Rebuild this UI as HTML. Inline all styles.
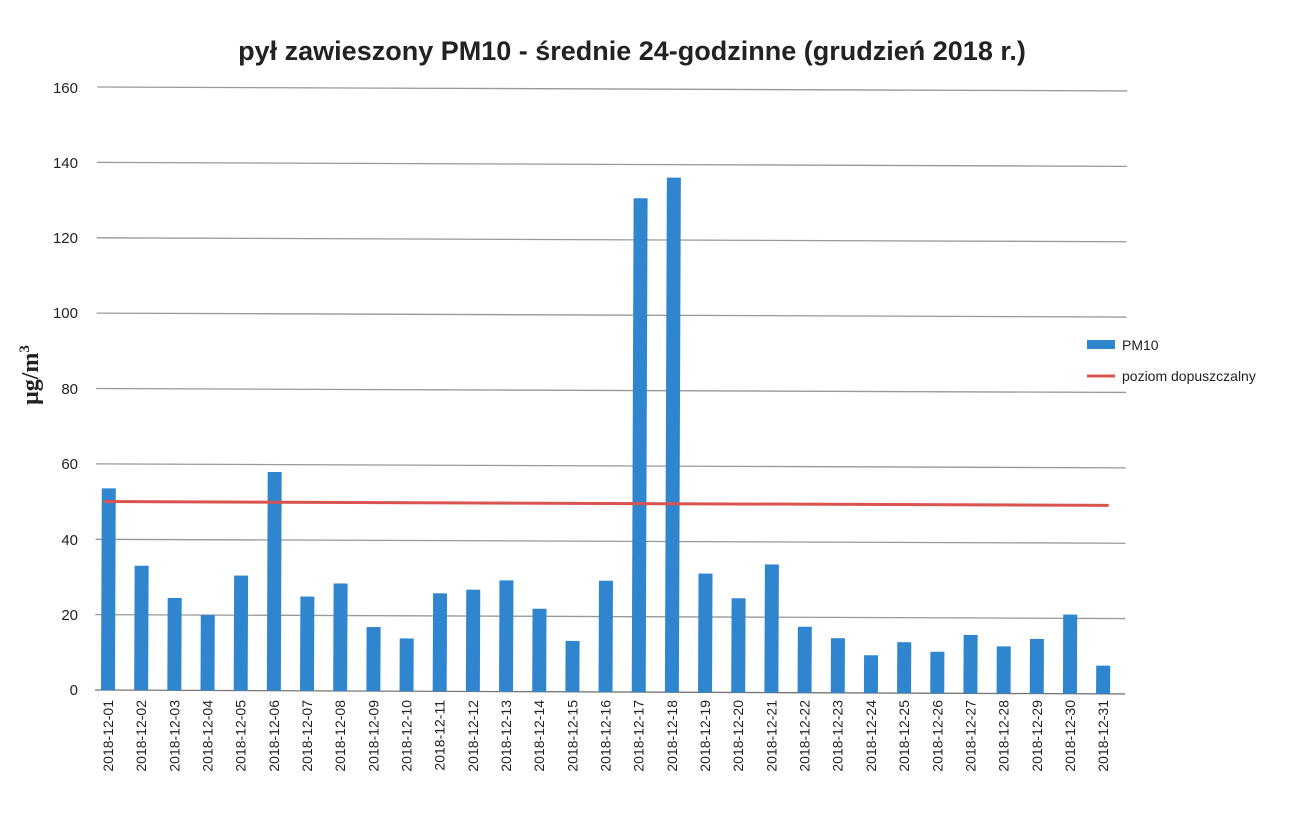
<!DOCTYPE html>
<html><head><meta charset="utf-8"><style>
body{margin:0;background:#fff;}
svg{display:block;}
</style></head><body>
<svg width="1312" height="821" viewBox="0 0 1312 821" xmlns="http://www.w3.org/2000/svg" font-family="Liberation Sans, DejaVu Sans, sans-serif">
<rect width="1312" height="821" fill="#fff"/>
<text x="632" y="60" text-anchor="middle" font-size="27" font-weight="bold" fill="#222">pył zawieszony PM10 - średnie 24-godzinne (grudzień 2018 r.)</text>
<g transform="rotate(0.22 95 690)">
<g stroke="#999" stroke-width="1.3">
<line x1="95" x2="1125" y1="87" y2="87"/>
<line x1="95" x2="1125" y1="162.4" y2="162.4"/>
<line x1="95" x2="1125" y1="237.8" y2="237.8"/>
<line x1="95" x2="1125" y1="313.1" y2="313.1"/>
<line x1="95" x2="1125" y1="388.5" y2="388.5"/>
<line x1="95" x2="1125" y1="463.9" y2="463.9"/>
<line x1="95" x2="1125" y1="539.3" y2="539.3"/>
<line x1="95" x2="1125" y1="614.6" y2="614.6"/>
<line x1="95" x2="1125" y1="690" y2="690" stroke="#777"/>
</g>
<g fill="#2f86cf" id="bars"></g>
<line x1="103" x2="1108" y1="501.5" y2="501.5" stroke="#d9534f" stroke-width="3"/>
</g>
<g font-size="15" fill="#222" text-anchor="end">
<text x="78" y="93">160</text><text x="78" y="168">140</text><text x="78" y="243">120</text>
<text x="78" y="318">100</text><text x="78" y="394">80</text><text x="78" y="469">60</text>
<text x="78" y="545">40</text><text x="78" y="620">20</text><text x="78" y="695">0</text>
</g>
<text transform="translate(38 375) rotate(-90)" text-anchor="middle" font-family="Liberation Serif, serif" font-size="24" font-weight="bold" fill="#222">μg/m<tspan font-size="15" dy="-9">3</tspan></text>
<rect x="1087" y="340" width="28" height="9" fill="#2f86cf"/>
<text x="1122" y="350" font-size="14" fill="#222">PM10</text>
<line x1="1087" x2="1115" y1="376" y2="376" stroke="#d9534f" stroke-width="3"/>
<text x="1122" y="381" font-size="14" fill="#222">poziom dopuszczalny</text>
<g id="labels" font-size="14" fill="#222"></g>
<script>
var v=[53.5,33,24.5,20,30.5,58,25,28.5,17,14,26,27,29.5,22,13.5,29.5,131,136.5,31.5,25,34,17.5,14.5,10,13.5,11,15.5,12.5,14.5,21,7.5];
var b=document.getElementById('bars'),l=document.getElementById('labels'),ns='http://www.w3.org/2000/svg';
for(var i=0;i<31;i++){var cx=108+i*33.17,h=v[i]*3.77;
var r=document.createElementNS(ns,'rect');r.setAttribute('x',cx-7);r.setAttribute('y',690-h);r.setAttribute('width',14);r.setAttribute('height',h);b.appendChild(r);
var t=document.createElementNS(ns,'text');t.setAttribute('transform','translate('+(cx+5)+' 700) rotate(-90)');t.setAttribute('text-anchor','end');
t.textContent='2018-12-'+(i<9?'0':'')+(i+1);l.appendChild(t);}
</script>
</svg>
</body></html>
